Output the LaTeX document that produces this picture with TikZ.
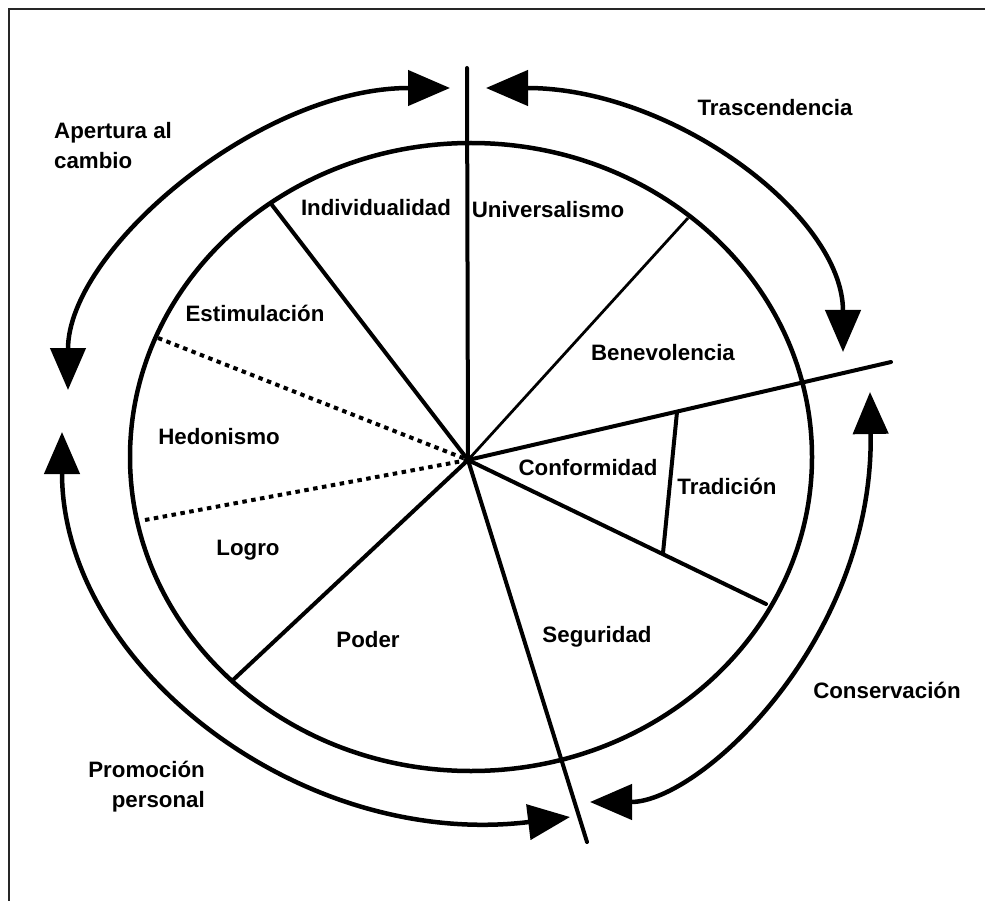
\documentclass[tikz,border=0pt]{standalone}
\usepackage{fontspec}
\setmainfont{Liberation Sans}
\usetikzlibrary{arrows.meta}
\begin{document}
\begin{tikzpicture}[x=1pt,y=-1pt,
  lbl/.style={font=\bfseries\fontsize{22.3}{30}\selectfont, inner sep=0pt},
  spoke/.style={line width=4pt, line cap=round},
  thinspoke/.style={line width=2.8pt},
  dotspoke/.style={line width=4pt, dash pattern=on 4.5pt off 4.5pt},
  bigarc/.style={line width=4.5pt, {Triangle[length=42pt,width=35pt]}-{Triangle[length=42pt,width=35pt]}},
]
\useasboundingbox (0,0) rectangle (985,901);
\fill[white] (0,0) rectangle (985,901);
% frame (top and left edges visible)
\coordinate (fTR) at (985,9);
\coordinate (fTL) at (9,9);
\coordinate (fBL) at (9,901);
\draw[line width=2pt, black!85] (fTR) -- (fTL) -- (fBL);

% inner circle (ellipse)
\coordinate (E) at (471,457);
\draw[line width=4.5pt] (E) ellipse [x radius=341pt, y radius=314pt];

% spokes
\coordinate (O) at (468,460);
\coordinate (top) at (467,68);
\coordinate (p1) at (272,205);
\coordinate (p2) at (158,338);
\coordinate (p3) at (145,520);
\coordinate (p4) at (233,680);
\coordinate (p5) at (587,842);
\coordinate (p6) at (766,604);
\coordinate (p7) at (891,362);
\coordinate (p8) at (688,218);
\coordinate (t1) at (677,412);
\coordinate (t2) at (663,553);
\draw[spoke] (top) -- (O);
\draw[spoke] (p1) -- (O);
\draw[dotspoke] (p2) -- (O);
\draw[dotspoke] (p3) -- (O);
\draw[spoke] (p4) -- (O);
\draw[spoke] (p5) -- (O);
\draw[spoke] (p6) -- (O);
\draw[spoke] (p7) -- (O);
\draw[thinspoke] (p8) -- (O);
\draw[spoke] (t1) -- (t2);

% outer arrows
\coordinate (a1) at (450,88);  \coordinate (a2) at (68,390);
\coordinate (b1) at (486,88);  \coordinate (b2) at (843,352);
\coordinate (c1) at (870,392); \coordinate (c2) at (590,802);
\coordinate (d1) at (62,432);  \coordinate (d2) at (570,817);
\draw[bigarc] (a1) .. controls (259,88) and (68,250) .. (a2);
\draw[bigarc] (b1) .. controls (672,88) and (843,215) .. (b2);
\draw[bigarc] (c1) .. controls (874,640) and (700,802) .. (c2);
\draw[bigarc] (d1) .. controls (62,665) and (300,850) .. (d2);

% labels
\node[lbl] (trasc) at (775,108) {Trascendencia};
\node[lbl, align=left, anchor=west] (apert) at (54,146) {Apertura al\\cambio};
\node[lbl] (indiv) at (376,208) {Individualidad};
\node[lbl] (univ) at (548,210) {Universalismo};
\node[lbl] (estim) at (255,313) {Estimulación};
\node[lbl] (benev) at (663,353) {Benevolencia};
\node[lbl] (hedon) at (219,437) {Hedonismo};
\node[lbl] (confo) at (588,468) {Conformidad};
\node[lbl] (tradi) at (727,486) {Tradición};
\node[lbl] (logro) at (248,550) {Logro};
\node[lbl] (poder) at (368,640) {Poder};
\node[lbl] (segur) at (597,637) {Seguridad};
\node[lbl] (conse) at (887,690) {Conservación};
\node[lbl, align=right, anchor=east] (promo) at (205,787) {Promoción\\personal};
\end{tikzpicture}
\end{document}
